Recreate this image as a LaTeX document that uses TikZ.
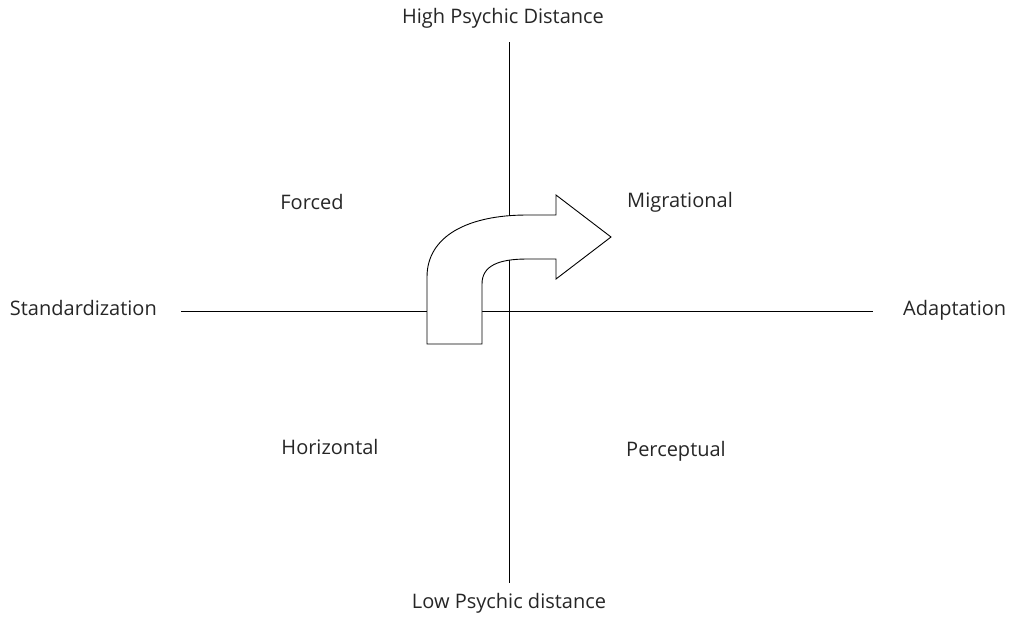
\documentclass[tikz,border=0pt]{standalone}
\usepackage{fontspec}
\setmainfont{Open Sans}
\usetikzlibrary{positioning}

\begin{document}
\begin{tikzpicture}[
  x=1pt,y=-1pt,
  font=\fontsize{20}{24}\selectfont,
  axis/.style={line width=0.9pt,black},
  bendarrow/.style={line width=0.9pt,draw=black,fill=white,line join=miter},
  quadrant/.style={inner sep=0pt,text=black!85},
  axislabel/.style={inner sep=0pt,text=black!85}
]
  \useasboundingbox (0,0) rectangle (1020,619);

  % axis ends
  \coordinate (top) at (509,42);
  \coordinate (bottom) at (509,583);
  \coordinate (left) at (181,311);
  \coordinate (right) at (873,311);

  % axis labels
  \node[axislabel] (high) at (503,18) {High Psychic Distance};
  \node[axislabel] (low) at (509,603) {Low Psychic distance};
  \node[axislabel,anchor=east] (std) at (157,308) {Standardization};
  \node[axislabel,anchor=west] (adapt) at (903,310) {Adaptation};

  % quadrant labels
  \node[quadrant] (forced) at (312,202) {Forced};
  \node[quadrant] (migr) at (680,202) {Migrational};
  \node[quadrant] (horiz) at (330,447) {Horizontal};
  \node[quadrant] (percep) at (676,451) {Perceptual};

  \draw[axis] (top) -- (bottom);
  \draw[axis] (left) -- (right);

  % bent arrow
  \draw[bendarrow] (427,344) -- (427,277)
    .. controls (427,236) and (468,215) .. (527,215)
    -- (556,215) -- (556,195) -- (611,237) -- (556,279) -- (556,259)
    -- (527,259) .. controls (498,259) and (482,266) .. (482,284)
    -- (482,344) -- cycle;
\end{tikzpicture}
\end{document}
